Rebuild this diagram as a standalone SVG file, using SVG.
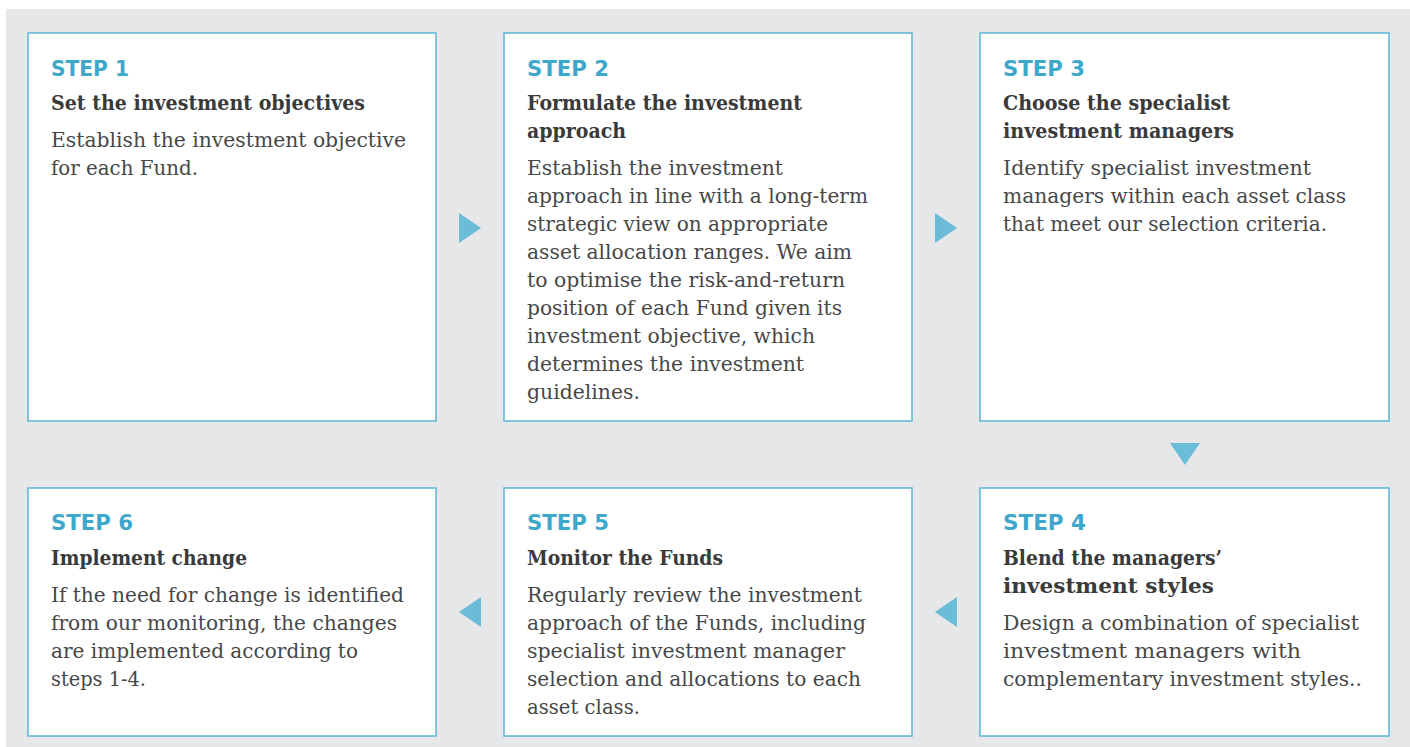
<svg xmlns="http://www.w3.org/2000/svg" width="1410" height="747" viewBox="0 0 1410 747">
<style>
.bg{fill:#e6e7e9}
.box{fill:#ffffff;stroke:#5ab5d5;stroke-width:1.5}
.step{font-family:"DejaVu Sans","Liberation Sans",Arial,sans-serif;font-weight:bold;font-size:22px;fill:#3ea8cc}
.title{font-family:"DejaVu Serif","Liberation Serif",serif;font-weight:bold;font-size:20px;fill:#3a3a3a}
.body{font-family:"DejaVu Serif","Liberation Serif",serif;font-size:20px;fill:#474747}
.tri{fill:#6bbcd6}
</style>
<rect class="bg" x="6" y="9" width="1404" height="738"/>
<g id="connectors">
<polygon class="tri" points="459,213 481,228 459,243"/>
<polygon class="tri" points="935,213 957,228 935,243"/>
<polygon class="tri" points="1170,443 1200,443 1185,465"/>
<polygon class="tri" points="957,597 935,612 957,627"/>
<polygon class="tri" points="481,597 459,612 481,627"/>
</g>
<g id="step1">
<rect class="box" x="28" y="33" width="408" height="388"/>
<text class="step" x="51" y="76" textLength="78" lengthAdjust="spacingAndGlyphs">STEP 1</text>
<text class="title" x="51" y="110" textLength="314" lengthAdjust="spacingAndGlyphs">Set the investment objectives</text>
<text class="body" x="51" y="147" textLength="355" lengthAdjust="spacingAndGlyphs">Establish the investment objective</text>
<text class="body" x="51" y="175" textLength="147" lengthAdjust="spacingAndGlyphs">for each Fund.</text>
</g>
<g id="step2">
<rect class="box" x="504" y="33" width="408" height="388"/>
<text class="step" x="527" y="76" textLength="82" lengthAdjust="spacingAndGlyphs">STEP 2</text>
<text class="title" x="527" y="110" textLength="275" lengthAdjust="spacingAndGlyphs">Formulate the investment</text>
<text class="title" x="527" y="138" textLength="99" lengthAdjust="spacingAndGlyphs">approach</text>
<text class="body" x="527" y="175" textLength="256" lengthAdjust="spacingAndGlyphs">Establish the investment</text>
<text class="body" x="527" y="203" textLength="341" lengthAdjust="spacingAndGlyphs">approach in line with a long-term</text>
<text class="body" x="527" y="231" textLength="301" lengthAdjust="spacingAndGlyphs">strategic view on appropriate</text>
<text class="body" x="527" y="259" textLength="325" lengthAdjust="spacingAndGlyphs">asset allocation ranges. We aim</text>
<text class="body" x="527" y="287" textLength="318" lengthAdjust="spacingAndGlyphs">to optimise the risk-and-return</text>
<text class="body" x="527" y="315" textLength="315" lengthAdjust="spacingAndGlyphs">position of each Fund given its</text>
<text class="body" x="527" y="343" textLength="288" lengthAdjust="spacingAndGlyphs">investment objective, which</text>
<text class="body" x="527" y="371" textLength="277" lengthAdjust="spacingAndGlyphs">determines the investment</text>
<text class="body" x="527" y="399" textLength="113" lengthAdjust="spacingAndGlyphs">guidelines.</text>
</g>
<g id="step3">
<rect class="box" x="980" y="33" width="409" height="388"/>
<text class="step" x="1003" y="76" textLength="82" lengthAdjust="spacingAndGlyphs">STEP 3</text>
<text class="title" x="1003" y="110" textLength="227" lengthAdjust="spacingAndGlyphs">Choose the specialist</text>
<text class="title" x="1003" y="138" textLength="231" lengthAdjust="spacingAndGlyphs">investment managers</text>
<text class="body" x="1003" y="175" textLength="308" lengthAdjust="spacingAndGlyphs">Identify specialist investment</text>
<text class="body" x="1003" y="203" textLength="343" lengthAdjust="spacingAndGlyphs">managers within each asset class</text>
<text class="body" x="1003" y="231" textLength="324" lengthAdjust="spacingAndGlyphs">that meet our selection criteria.</text>
</g>
<g id="step4">
<rect class="box" x="980" y="488" width="409" height="248"/>
<text class="step" x="1003" y="530" textLength="83" lengthAdjust="spacingAndGlyphs">STEP 4</text>
<text class="title" x="1003" y="565" textLength="219" lengthAdjust="spacingAndGlyphs">Blend the managers’</text>
<text class="title" x="1003" y="593" textLength="211" lengthAdjust="spacingAndGlyphs">investment styles</text>
<text class="body" x="1003" y="630" textLength="356" lengthAdjust="spacingAndGlyphs">Design a combination of specialist</text>
<text class="body" x="1003" y="658" textLength="298" lengthAdjust="spacingAndGlyphs">investment managers with</text>
<text class="body" x="1003" y="686" textLength="359" lengthAdjust="spacingAndGlyphs">complementary investment styles..</text>
</g>
<g id="step5">
<rect class="box" x="504" y="488" width="408" height="248"/>
<text class="step" x="527" y="530" textLength="82" lengthAdjust="spacingAndGlyphs">STEP 5</text>
<text class="title" x="527" y="565" textLength="196" lengthAdjust="spacingAndGlyphs">Monitor the Funds</text>
<text class="body" x="527" y="602" textLength="335" lengthAdjust="spacingAndGlyphs">Regularly review the investment</text>
<text class="body" x="527" y="630" textLength="339" lengthAdjust="spacingAndGlyphs">approach of the Funds, including</text>
<text class="body" x="527" y="658" textLength="318" lengthAdjust="spacingAndGlyphs">specialist investment manager</text>
<text class="body" x="527" y="686" textLength="334" lengthAdjust="spacingAndGlyphs">selection and allocations to each</text>
<text class="body" x="527" y="714" textLength="113" lengthAdjust="spacingAndGlyphs">asset class.</text>
</g>
<g id="step6">
<rect class="box" x="28" y="488" width="408" height="248"/>
<text class="step" x="51" y="530" textLength="82" lengthAdjust="spacingAndGlyphs">STEP 6</text>
<text class="title" x="51" y="565" textLength="196" lengthAdjust="spacingAndGlyphs">Implement change</text>
<text class="body" x="51" y="602" textLength="353" lengthAdjust="spacingAndGlyphs">If the need for change is identified</text>
<text class="body" x="51" y="630" textLength="346" lengthAdjust="spacingAndGlyphs">from our monitoring, the changes</text>
<text class="body" x="51" y="658" textLength="307" lengthAdjust="spacingAndGlyphs">are implemented according to</text>
<text class="body" x="51" y="686" textLength="95" lengthAdjust="spacingAndGlyphs">steps 1-4.</text>
</g>
</svg>
